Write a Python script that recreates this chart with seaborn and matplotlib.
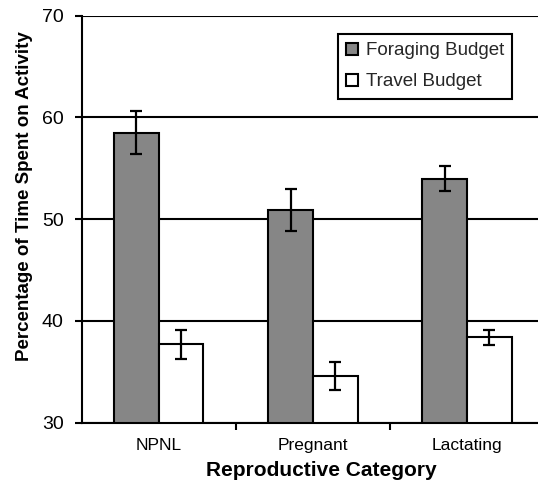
import matplotlib
matplotlib.use("Agg")
import matplotlib.pyplot as plt
import seaborn as sns
import pandas as pd

categories = ["NPNL", "Pregnant", "Lactating"]
series = ["Foraging Budget", "Travel Budget"]
foraging = [58.5, 50.9, 54.0]
foraging_err = [2.1, 2.1, 1.2]
travel = [37.7, 34.6, 38.4]
travel_err = [1.4, 1.4, 0.75]
yticks = [30, 40, 50, 60, 70]
colors = ["#868686", "#ffffff"]

sns.set_theme(style="white")
plt.rcParams['font.family'] = ['Liberation Sans', 'DejaVu Sans']

df = pd.DataFrame({
    "Category": categories * 2,
    "Budget": [series[0]] * len(categories) + [series[1]] * len(categories),
    "Value": foraging + travel,
})

W, H = 538, 487
fig = plt.figure(figsize=(W / 100, H / 100), dpi=100)
ax = fig.add_axes([81.7 / W, (H - 422.7) / H, 462.3 / W, 407 / H])

sns.barplot(data=df, x="Category", y="Value", hue="Budget", order=categories,
            hue_order=series, palette=colors, width=0.58, gap=0,
            edgecolor="black", linewidth=1.5, saturation=1, errorbar=None,
            ax=ax, zorder=2)

for cont, errs in zip(ax.containers, [foraging_err, travel_err]):
    xs = [p.get_x() + p.get_width() / 2 for p in cont]
    ys = [p.get_height() for p in cont]
    ax.errorbar(xs, ys, yerr=errs, fmt="none", ecolor="black", elinewidth=1.6,
                capsize=4.3, capthick=1.6, zorder=3)

ax.set_ylim(30, 70)
ax.set_xlim(-0.5, 2.5)
ax.set_yticks(yticks)
ax.yaxis.grid(True, color="black", linewidth=1.5)
ax.xaxis.grid(False)
ax.set_axisbelow(True)

for s in ["top", "right"]:
    ax.spines[s].set_visible(False)
for s in ["left", "bottom"]:
    ax.spines[s].set_color("black")
    ax.spines[s].set_linewidth(1.5)

ax.tick_params(axis="y", which="major", left=True, direction="out", length=5,
               width=1.5, color="black", pad=8, labelsize=14, labelcolor="black")
ax.set_xticks([0.5, 1.5], minor=True)
ax.tick_params(axis="x", which="major", bottom=True, length=0, pad=11,
               labelsize=12.5, labelcolor="black")
ax.tick_params(axis="x", which="minor", bottom=True, direction="out", length=5,
               width=1.5, color="black")

ax.set_ylabel("Percentage of Time Spent on Activity", fontsize=13.5,
              fontweight="bold", color="black")
ax.yaxis.set_label_coords((33.5 - 81.7) / 462.3, (422.7 - 196.5) / 407)
ax.set_xlabel("Reproductive Category", fontsize=15, fontweight="bold",
              color="black")
ax.xaxis.set_label_coords((321.5 - 81.7) / 462.3, (422.7 - 461) / 407)

leg = ax.legend(loc="upper left",
                bbox_to_anchor=((338 - 81.7) / 462.3, (422.7 - 34) / 407),
                borderaxespad=0, fontsize=13.5, frameon=True, fancybox=False,
                shadow=False, framealpha=1, edgecolor="black",
                handlelength=0.6, handleheight=0.6, handletextpad=0.43,
                borderpad=0.45, labelspacing=0.75, title=None)
leg.get_frame().set_linewidth(1.5)

fig.savefig("out.png", dpi=100)
